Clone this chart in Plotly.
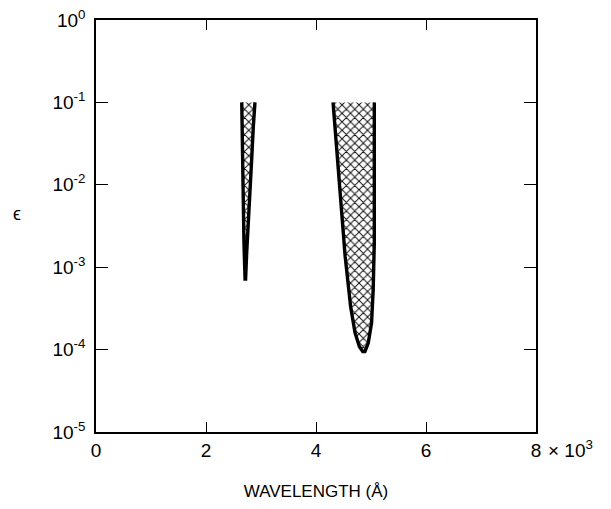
import plotly.graph_objects as go

# Region 1 boundary (open at the top): wavelength in units of 10^3 Å, epsilon
band1_wavelength = [2.65, 2.66, 2.67, 2.68, 2.69, 2.71, 2.72, 2.74, 2.76, 2.79, 2.83, 2.86, 2.89]
band1_epsilon = [1e-1, 3e-2, 1e-2, 4e-3, 2e-3, 7.2e-4, 7.2e-4, 1.5e-3, 2.5e-3, 7e-3, 2e-2, 5e-2, 1e-1]

# Region 2 boundary (open at the top)
band2_wavelength = [4.31, 4.39, 4.45, 4.53, 4.63, 4.71, 4.79, 4.85, 4.89, 4.95, 5.01, 5.04, 5.06, 5.06]
band2_epsilon = [1e-1, 2.2e-2, 5.5e-3, 1.35e-3, 3.3e-4, 1.6e-4, 1.08e-4, 9.5e-5, 9.5e-5, 1.2e-4, 2.1e-4, 5.4e-4, 2e-3, 1e-1]

x_tickvals = [0, 2, 4, 6, 8]
x_ticktext = ["0", "2", "4", "6", "8"]
y_tickvals = [1e0, 1e-1, 1e-2, 1e-3, 1e-4, 1e-5]
y_ticktext = ["10<sup>0</sup>", "10<sup>-1</sup>", "10<sup>-2</sup>", "10<sup>-3</sup>",
              "10<sup>-4</sup>", "10<sup>-5</sup>"]

FONT = "Liberation Sans"

fig = go.Figure()
for wl, eps in [(band1_wavelength, band1_epsilon), (band2_wavelength, band2_epsilon)]:
    fig.add_trace(go.Scatter(
        x=wl, y=eps, mode="lines", fill="toself",
        fillcolor="white",
        fillpattern=dict(shape="x", size=6, solidity=0.3, fgcolor="#111", bgcolor="white"),
        line=dict(width=0, color="rgba(0,0,0,0)"), hoverinfo="skip", showlegend=False))
    fig.add_trace(go.Scatter(
        x=wl, y=eps, mode="lines",
        line=dict(width=3.4, color="black"), showlegend=False))

fig.update_layout(
    template="none",
    width=603, height=501,
    margin=dict(l=88, r=75, t=12, b=77),
    paper_bgcolor="white", plot_bgcolor="white",
    font=dict(family=FONT, size=19, color="black"),
    xaxis=dict(range=[0, 8], tickvals=x_tickvals, ticktext=x_ticktext, automargin=False,
               ticks="inside", ticklen=10, tickwidth=1.2, tickcolor="black",
               mirror="ticks", showline=True, linecolor="black", linewidth=1.5,
               showgrid=False, zeroline=False, tickfont=dict(size=19, family=FONT),
               ticklabeloverflow="allow",
               title=dict(text="WAVELENGTH (Å)", font=dict(size=17, family=FONT), standoff=26)),
    yaxis=dict(type="log", range=[-5, 0], tickvals=y_tickvals, ticktext=y_ticktext,
               automargin=False, ticklabeloverflow="allow",
               ticks="inside", ticklen=12, tickwidth=1.2, tickcolor="black",
               mirror="ticks", showline=True, linecolor="black", linewidth=1.5,
               showgrid=False, zeroline=False, ticklabelstandoff=5,
               tickfont=dict(size=19, family=FONT)),
    annotations=[
        dict(text="ϵ", xref="paper", yref="paper", x=-0.18, y=0.53,
             showarrow=False, font=dict(size=18, family=FONT),
             xanchor="center", yanchor="middle"),
        dict(text="× 10<sup>3</sup>", xref="paper", yref="paper", x=1.0, y=0,
             xanchor="left", yanchor="top", xshift=10, yshift=-3, showarrow=False,
             font=dict(size=19, family=FONT)),
    ],
)

fig.write_html("out.html")
